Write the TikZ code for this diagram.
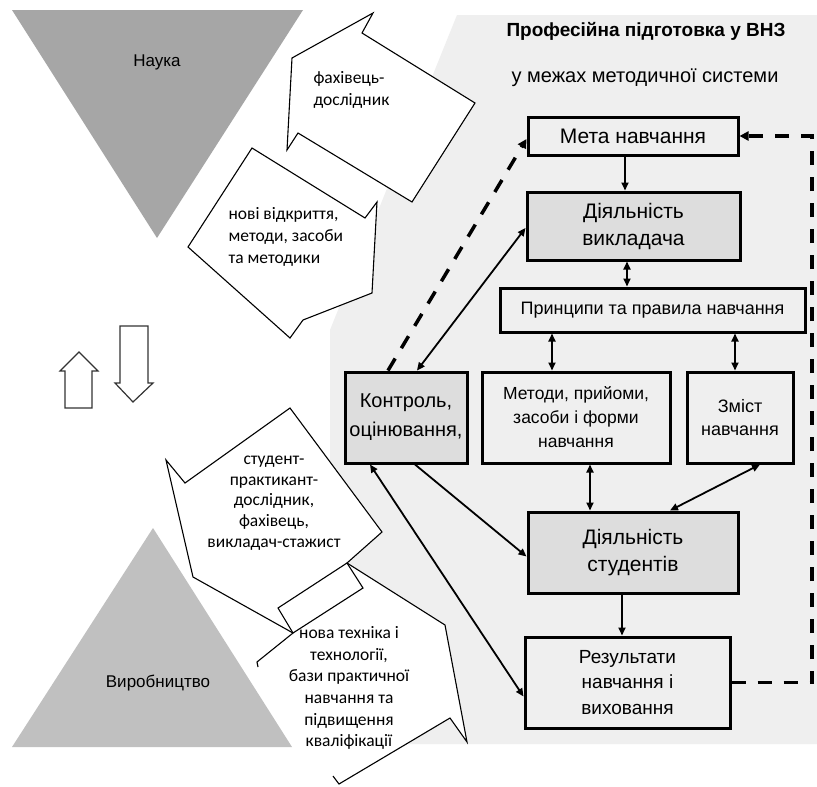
\documentclass[tikz,border=0pt]{standalone}
\usepackage{fontspec}
\setmainfont{Liberation Sans}
\newfontfamily\calfont{Carlito}
\usetikzlibrary{arrows.meta,calc}
\definecolor{bgc}{RGB}{239,239,239}
\definecolor{naukac}{RGB}{166,166,166}
\definecolor{vyrc}{RGB}{192,192,192}
\definecolor{dotc}{RGB}{221,221,221}
\newcommand\fbig{\fontsize{21}{27}\selectfont}
\newcommand\fkon{\fontsize{20}{29}\selectfont}
\newcommand\fmeth{\fontsize{17.5}{24}\selectfont}
\newcommand\fres{\fontsize{19}{25.5}\selectfont}
\newcommand\fzm{\fontsize{18}{23.5}\selectfont}
\newcommand\fpr{\fontsize{18}{20}\selectfont}
\newcommand\flab{\fontsize{17}{20.5}\selectfont}
\newcommand\ftitle{\fontsize{19}{22}\selectfont}
\newcommand\fsub{\fontsize{20}{22}\selectfont}
\newcommand\fcal{\calfont\fontsize{17.5}{21.7}\selectfont}
\newcommand\fcalb{\calfont\fontsize{17.5}{20.7}\selectfont}
\begin{document}
\begin{tikzpicture}[x=1pt,y=-1pt,
  box/.style={draw=black, line width=3pt, fill=bgc, inner sep=0pt, align=center},
  dbox/.style={box, fill=dotc},
  call/.style={draw=black, line width=1.1pt, fill=white, line join=miter},
  cline/.style={draw=black, line width=1.1pt},
  blk/.style={draw=black!80, line width=1.2pt, fill=white},
  arr/.style={line width=1.8pt, -{Triangle[length=8pt,width=7pt]}},
  darr/.style={line width=1.8pt, {Triangle[length=8pt,width=7pt]}-{Triangle[length=8pt,width=7pt]}},
  dashln/.style={line width=3.5pt, dash pattern=on 14pt off 12pt},
]
\path[fill=white] (0,0) rectangle (817,787);
\useasboundingbox (0,0) rectangle (817,787);
% background region
\fill[bgc] (457,15) -- (817,15) -- (817,744) -- (330,744) -- (330,330) -- cycle;
% triangles
\fill[naukac] (12,10) -- (303,10) -- (157,238) -- cycle;
\fill[vyrc] (153,528) -- (292,747) -- (12,747) -- cycle;
\node[font=\flab] (tnauka) at (157,62) {Наука};
\node[font=\flab] (tvyr) at (158,683) {Виробництво};
% block arrows
\draw[blk] (79,352) -- (98,371) -- (92,371) -- (92,408) -- (65,408) -- (65,371) -- (60,371) -- cycle;
\draw[blk] (120,326) -- (148,326) -- (148,383) -- (153,383) -- (133,402) -- (115,383) -- (120,383) -- cycle;
% callouts
\draw[call] (373,13) -- (362,33) -- (475,103) -- (412,202) -- (298,133) -- (287,150) -- (292,58) -- cycle;
\draw[call] (252,148) -- (365,218) -- (377,202) -- (372,293) -- (303,320) -- (290,338) -- (188,247) -- cycle;
\fill[white] (347,563) -- (445,625) -- (467,742) -- (450,718) -- (339,784) -- (333,776) -- (258,667) -- (257,662) -- (293,633) -- cycle;
\draw[cline] (293,633) -- (257,662) -- (258,667);
\draw[cline] (347,563) -- (445,625) -- (467,742) -- (450,718) -- (339,784) -- (333,776);
\draw[call] (290,408) -- (382,532) -- (347,563) -- (363,588) -- (293,633) -- (193,577) -- (166,460) -- (185,483) -- cycle;
\draw[cline] (347,563) -- (278,608) -- (293,633);
\node[font=\fcal, align=left, anchor=west] (c1) at (310,90) {фахівець-\\дослідник};
\node[font=\fcal, align=left, anchor=west] (c2) at (225,237) {нові відкриття,\\методи, засоби\\та методики};
\node[font=\fcalb, align=center] (c3) at (274,503) {студент-\\практикант-\\дослідник,\\фахівець,\\викладач-стажист};
\node[font=\fcal, align=center] (c4) at (349,688) {нова техніка і\\технології,\\бази практичної\\навчання та\\підвищення\\кваліфікації};
% titles
\node[font=\bfseries\ftitle] (title) at (646,31) {Професійна підготовка у ВНЗ};
\node[font=\fsub] (sub) at (645,78) {у межах методичної системи};
% boxes
\node[box, minimum width=210pt, minimum height=38pt, font=\fbig] (meta) at (633,136) {Мета навчання};
\node[dbox, minimum width=213pt, minimum height=68pt, font=\fbig] (dv) at (633.5,226) {Діяльність\\викладача};
\node[box, minimum width=305pt, minimum height=44pt, font=\fpr] (pr) at (652.5,310) {Принципи та правила навчання};
\node[dbox, minimum width=122pt, minimum height=91pt, font=\fkon] (kon) at (406,417.5) {Контроль,\\оцінювання,};
\node[box, minimum width=188pt, minimum height=91pt, font=\fmeth] (me) at (576,417.5) {Методи, прийоми,\\засоби і форми\\навчання};
\node[box, minimum width=106pt, minimum height=91pt, font=\fzm] (zm) at (740,417.5) {Зміст\\навчання};
\node[dbox, minimum width=210pt, minimum height=81pt, font=\fbig] (ds) at (633,552.5) {Діяльність\\студентів};
\node[box, minimum width=205pt, minimum height=91pt, font=\fres] (res) at (627.5,682.5) {Результати\\навчання і\\виховання};
% x coordinates for vertical arrows
\coordinate (x625) at (625,0);
\coordinate (x627) at (627,0);
\coordinate (x552) at (552,0);
\coordinate (x735) at (735,0);
\coordinate (x590) at (590,0);
\coordinate (x622) at (622,0);
\coordinate (x812) at (812,0);
% connectors
\draw[arr] (meta.south -| x625) -- (dv.north -| x625);
\draw[darr] (dv.south -| x627) -- (pr.north -| x627);
\draw[darr] (pr.south -| x552) -- (me.north -| x552);
\draw[darr] (pr.south -| x735) -- (zm.north -| x735);
\draw[darr] (me.south -| x590) -- (ds.north -| x590);
\draw[darr] ($(zm.south)+(20,0)$) -- ($(ds.north)+(37,0)$);
\draw[darr] ($(kon.north)+(11,0)$) -- ($(dv.west)+(0,2)$);
\draw[arr] ($(kon.south)+(9,0)$) -- ($(ds.west)+(0,4)$);
\draw[darr] ($(kon.south)+(-36,0)$) -- ($(res.west)+(0,14)$);
\draw[arr] (ds.south -| x622) -- (res.north -| x622);
\draw[dashln, -{Triangle[length=9pt,width=9pt]}] ($(kon.north)+(-18,0)$) -- ($(meta.west)+(0,3)$);
\draw[dashln, -{Triangle[length=9pt,width=9pt]}] (res.east) -- (res.east -| x812) -- (meta.east -| x812) -- (meta.east);
\end{tikzpicture}
\end{document}
